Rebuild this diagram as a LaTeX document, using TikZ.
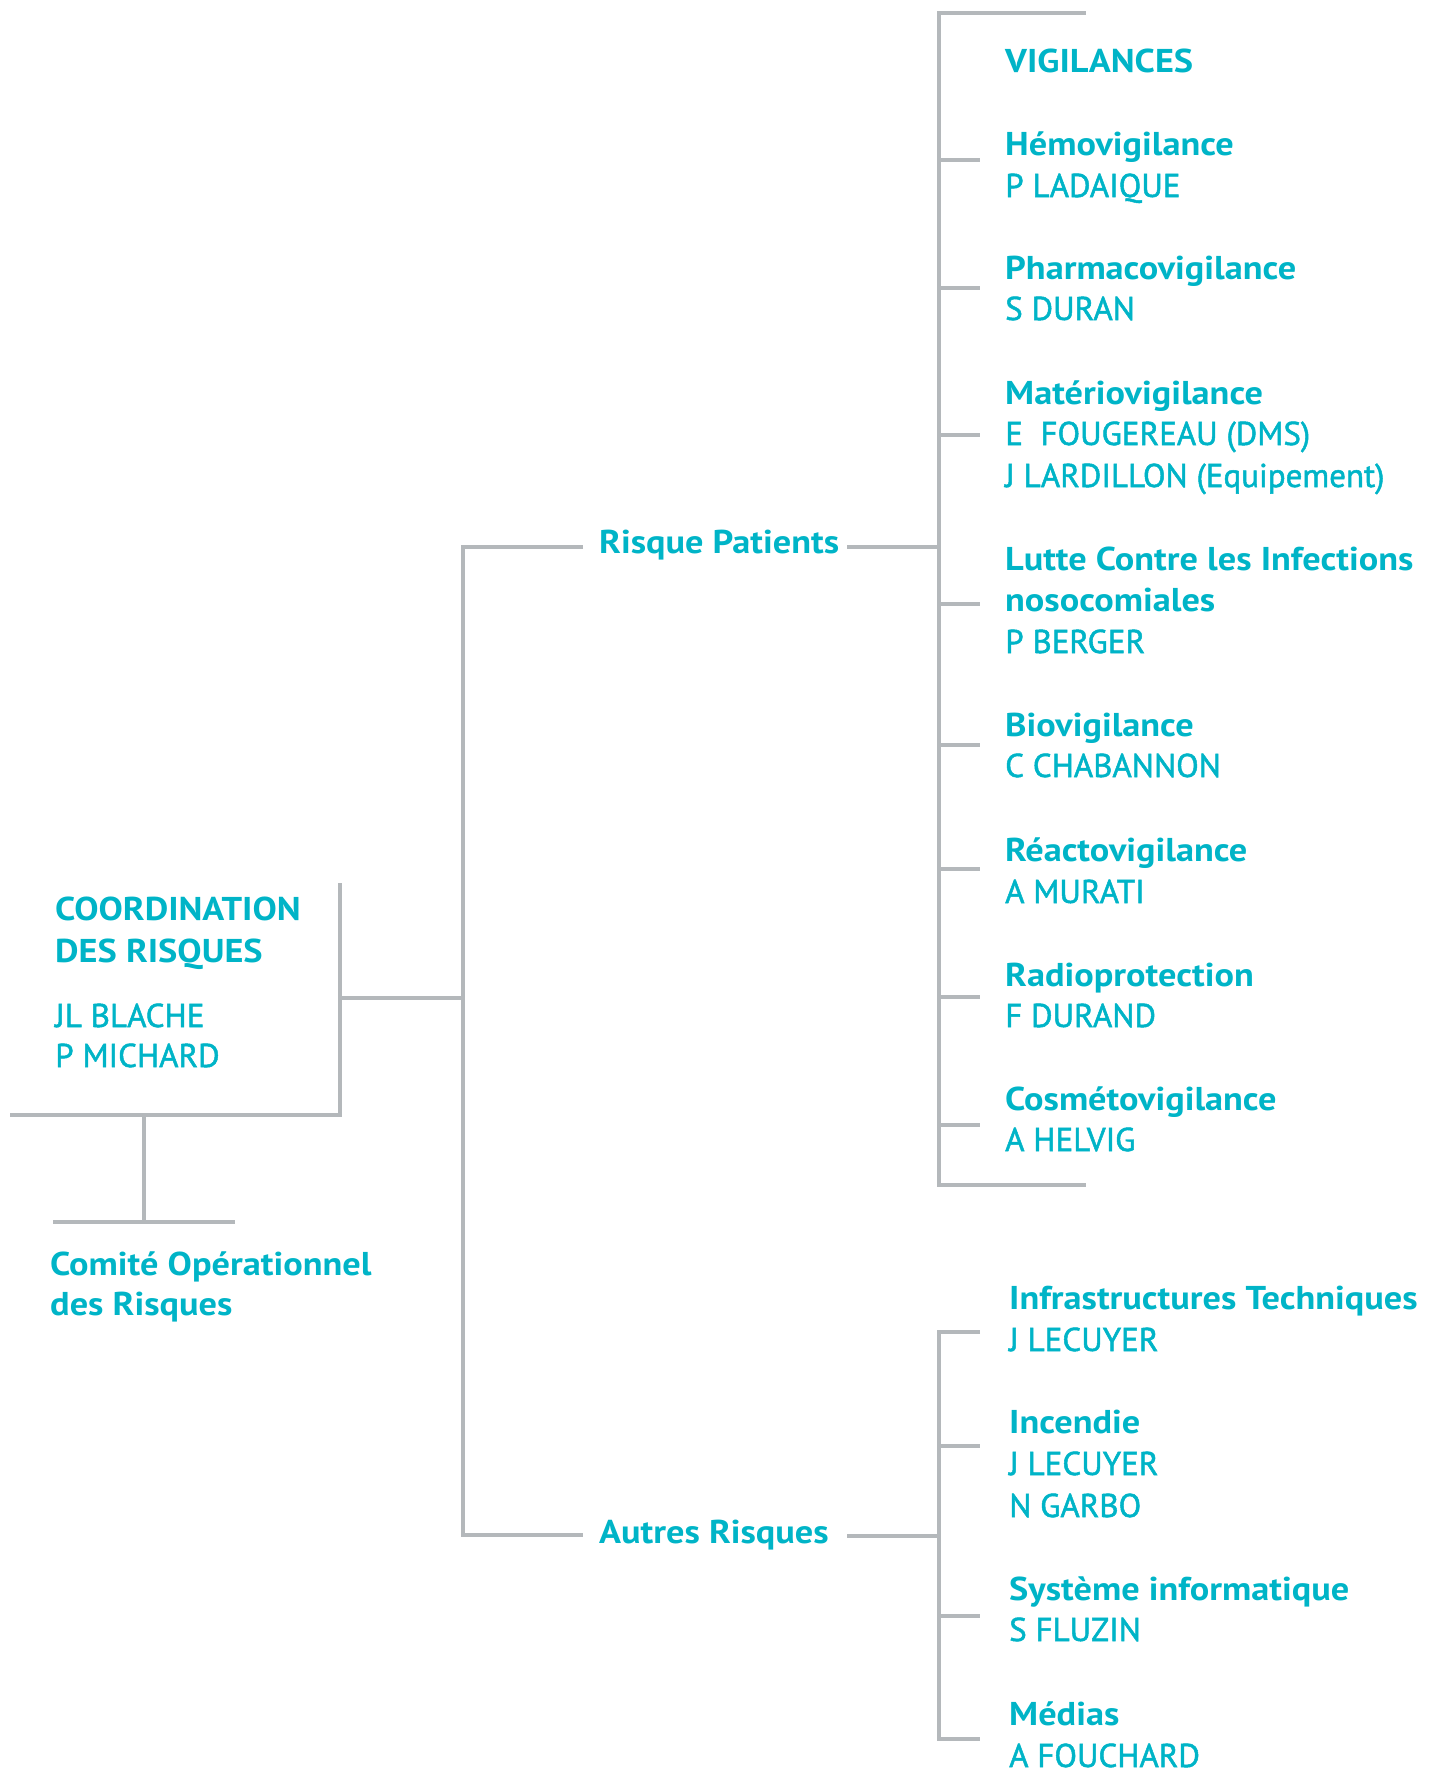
\documentclass[tikz,border=0pt]{standalone}
\usepackage{fontspec}
\setmainfont{PT Sans}[BoldFeatures={FakeStretch=1.1}]
\newfontfamily\namefont{PT Sans}[FakeBold=1.5]
\definecolor{txtcol}{RGB}{0,180,199}
\definecolor{linegray}{RGB}{180,184,187}
\tikzset{
  line/.style={draw=linegray, line width=4pt},
  ttl/.style={font=\bfseries\fontsize{33}{41.5}\selectfont, text=txtcol, anchor=base west, inner sep=0pt},
  nm/.style={font=\namefont\fontsize{33}{41.5}\selectfont, text=txtcol, anchor=base west, inner sep=0pt},
}
\begin{document}
\begin{tikzpicture}[x=1pt,y=-1pt]
\useasboundingbox (0,0) rectangle (1437,1770);
% junction coordinates
\coordinate (mainTop) at (463,547);
\coordinate (mainBot) at (463,1535);
\coordinate (vigJ) at (939,547);
\coordinate (autJ) at (939,1536);
\coordinate (coordJ) at (340,998);
% left block
\node[ttl] (coord1) at (55,920) {COORDINATION};
\node[ttl] (coord2) at (55,962) {DES RISQUES};
\node[nm] (blache) at (55,1027) {JL BLACHE};
\node[nm] (michard) at (55,1067) {P MICHARD};
\node[ttl] (comite1) at (50,1275) {Comité Opérationnel};
\node[ttl] (comite2) at (50,1315) {des Risques};
% middle
\node[ttl] (rp) at (599,553) {Risque Patients};
\node[ttl] (ar) at (599,1543) {Autres Risques};
% vigilances
\node[ttl] (vig) at (1005,72) {VIGILANCES};
\node[ttl] (hemo) at (1005,155) {Hémovigilance};
\node[nm] (hemoN) at (1005,197) {P LADAIQUE};
\node[ttl] (pharma) at (1005,279) {Pharmacovigilance};
\node[nm] (pharmaN) at (1005,320) {S DURAN};
\node[ttl] (mat) at (1005,404) {Matériovigilance};
\node[nm] (matN1) at (1005,445) {E\ \ FOUGEREAU (DMS)};
\node[nm] (matN2) at (1005,487) {J LARDILLON (Equipement)};
\node[ttl] (lutte1) at (1005,570) {Lutte Contre les Infections};
\node[ttl] (lutte2) at (1005,611) {nosocomiales};
\node[nm] (lutteN) at (1005,653) {P BERGER};
\node[ttl] (bio) at (1005,736) {Biovigilance};
\node[nm] (bioN) at (1005,777) {C CHABANNON};
\node[ttl] (reac) at (1005,861) {Réactovigilance};
\node[nm] (reacN) at (1005,903) {A MURATI};
\node[ttl] (radio) at (1005,986) {Radioprotection};
\node[nm] (radioN) at (1005,1027) {F DURAND};
\node[ttl] (cosm) at (1005,1110) {Cosmétovigilance};
\node[nm] (cosmN) at (1005,1151) {A HELVIG};
% autres risques
\node[ttl] (infra) at (1009,1309) {Infrastructures Techniques};
\node[nm] (infraN) at (1009,1351) {J LECUYER};
\node[ttl] (inc) at (1009,1433) {Incendie};
\node[nm] (incN1) at (1009,1475) {J LECUYER};
\node[nm] (incN2) at (1009,1517) {N GARBO};
\node[ttl] (sys) at (1009,1600) {Système informatique};
\node[nm] (sysN) at (1009,1641) {S FLUZIN};
\node[ttl] (med) at (1009,1725) {Médias};
\node[nm] (medN) at (1009,1767) {A FOUCHARD};
% lines: left
\draw[line] (340,883) -- (340,1115) -- (10,1115);
\draw[line] (coordJ) -- (coordJ -| mainTop);
\draw[line] (144,1115) -- (144,1222);
\draw[line] (53,1222) -- (235,1222);
% main bracket
\draw[line] (583,547) -- (mainTop) -- (mainBot) -- (583,1535);
\draw[line] (847,547) -- (vigJ);
\draw[line] (847,1536) -- (autJ);
% vigilances bracket
\draw[line] (1086,13) -- (939,13) -- (939,1185) -- (1086,1185);
\foreach \yy in {160,288,435,604,745,869,997,1125}
  \draw[line] (939,\yy) -- (980,\yy);
% autres bracket
\draw[line] (980,1332) -- (939,1332) -- (939,1739) -- (980,1739);
\foreach \yy in {1446,1616}
  \draw[line] (939,\yy) -- (980,\yy);
\end{tikzpicture}
\end{document}
